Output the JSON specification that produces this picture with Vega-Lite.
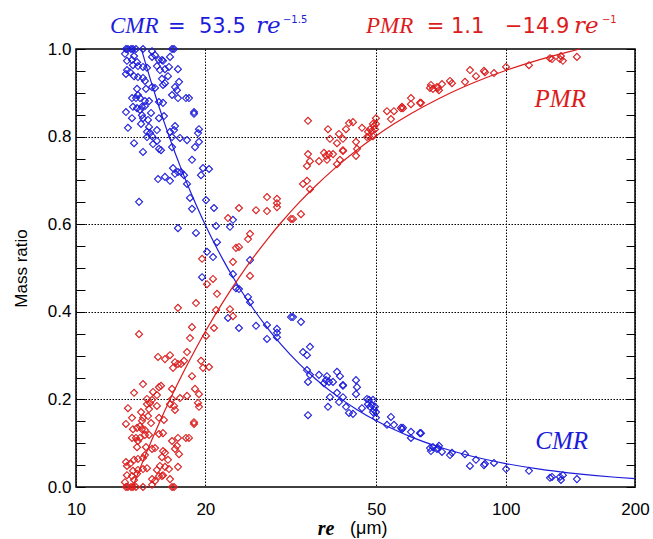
{
  "$schema": "https://vega.github.io/schema/vega-lite/v6.json",
  "width": 559,
  "height": 438,
  "autosize": {"type": "none"},
  "padding": {"left": 76, "top": 49, "right": 18, "bottom": 52},
  "background": "white",
  "config": {"view": {"stroke": "black", "strokeWidth": 1.5},
    "axis": {"titleFont": "Liberation Sans", "titleFontSize": 17, "titleFontWeight": "normal", "titleColor": "black"}},
  "datasets": {
    "pts": [
      {"re":13.07,"cmr":1.0,"pmr":0.0},{"re":13.21,"cmr":1.0,"pmr":0.0},{"re":13.43,"cmr":1.0,"pmr":0.0},{"re":13.57,"cmr":1.0,"pmr":0.0},
      {"re":13.79,"cmr":1.0,"pmr":0.0},{"re":14.32,"cmr":1.0,"pmr":0.0},{"re":15.03,"cmr":0.995,"pmr":0.005},{"re":16.73,"cmr":1.0,"pmr":0.0},
      {"re":16.91,"cmr":1.0,"pmr":0.0},{"re":13.0,"cmr":0.989,"pmr":0.011},{"re":13.65,"cmr":0.984,"pmr":0.016},{"re":13.14,"cmr":0.973,"pmr":0.027},
      {"re":13.5,"cmr":0.975,"pmr":0.025},{"re":13.87,"cmr":0.97,"pmr":0.03},{"re":13.57,"cmr":0.963,"pmr":0.037},{"re":13.94,"cmr":0.961,"pmr":0.039},
      {"re":13.14,"cmr":0.952,"pmr":0.048},{"re":13.07,"cmr":0.943,"pmr":0.057},{"re":13.36,"cmr":0.947,"pmr":0.053},{"re":14.32,"cmr":0.959,"pmr":0.041},
      {"re":14.63,"cmr":0.957,"pmr":0.043},{"re":15.03,"cmr":0.982,"pmr":0.018},{"re":15.27,"cmr":0.986,"pmr":0.014},{"re":15.6,"cmr":0.975,"pmr":0.025},
      {"re":15.85,"cmr":0.975,"pmr":0.025},{"re":15.94,"cmr":0.973,"pmr":0.027},{"re":15.43,"cmr":0.961,"pmr":0.039},{"re":15.68,"cmr":0.952,"pmr":0.048},
      {"re":16.11,"cmr":0.954,"pmr":0.046},{"re":16.55,"cmr":0.982,"pmr":0.018},{"re":16.46,"cmr":0.959,"pmr":0.041},{"re":17.27,"cmr":0.954,"pmr":0.046},
      {"re":13.65,"cmr":0.938,"pmr":0.062},{"re":13.94,"cmr":0.936,"pmr":0.064},{"re":14.32,"cmr":0.934,"pmr":0.066},{"re":14.47,"cmr":0.927,"pmr":0.073},
      {"re":15.85,"cmr":0.932,"pmr":0.068},{"re":16.37,"cmr":0.938,"pmr":0.062},{"re":17.37,"cmr":0.925,"pmr":0.075},{"re":16.11,"cmr":0.922,"pmr":0.078},
      {"re":15.94,"cmr":0.918,"pmr":0.082},{"re":15.03,"cmr":0.913,"pmr":0.087},{"re":15.27,"cmr":0.911,"pmr":0.089},{"re":17.0,"cmr":0.913,"pmr":0.087},
      {"re":17.18,"cmr":0.906,"pmr":0.094},{"re":13.87,"cmr":0.909,"pmr":0.091},{"re":14.55,"cmr":0.909,"pmr":0.091},{"re":13.94,"cmr":0.895,"pmr":0.105},
      {"re":13.5,"cmr":0.888,"pmr":0.112},{"re":13.79,"cmr":0.888,"pmr":0.112},{"re":14.09,"cmr":0.888,"pmr":0.112},{"re":14.47,"cmr":0.881,"pmr":0.119},
      {"re":14.79,"cmr":0.881,"pmr":0.119},{"re":15.6,"cmr":0.879,"pmr":0.121},{"re":15.94,"cmr":0.877,"pmr":0.123},{"re":16.73,"cmr":0.895,"pmr":0.105},
      {"re":17.27,"cmr":0.888,"pmr":0.112},{"re":18.03,"cmr":0.888,"pmr":0.112},{"re":18.32,"cmr":0.888,"pmr":0.112},{"re":13.57,"cmr":0.868,"pmr":0.132},
      {"re":13.87,"cmr":0.865,"pmr":0.135},{"re":14.09,"cmr":0.861,"pmr":0.139},{"re":14.24,"cmr":0.868,"pmr":0.132},{"re":14.47,"cmr":0.87,"pmr":0.13},
      {"re":13.07,"cmr":0.856,"pmr":0.144},{"re":13.5,"cmr":0.842,"pmr":0.158},{"re":14.24,"cmr":0.849,"pmr":0.151},{"re":14.32,"cmr":0.842,"pmr":0.158},
      {"re":14.95,"cmr":0.854,"pmr":0.146},{"re":15.6,"cmr":0.842,"pmr":0.158},{"re":16.02,"cmr":0.847,"pmr":0.153},{"re":18.82,"cmr":0.856,"pmr":0.144},
      {"re":18.82,"cmr":0.852,"pmr":0.148},{"re":14.17,"cmr":0.829,"pmr":0.171},{"re":14.71,"cmr":0.838,"pmr":0.162},{"re":14.79,"cmr":0.822,"pmr":0.178},
      {"re":13.21,"cmr":0.82,"pmr":0.18},{"re":14.63,"cmr":0.811,"pmr":0.189},{"re":14.87,"cmr":0.808,"pmr":0.192},{"re":15.43,"cmr":0.815,"pmr":0.185},
      {"re":17.0,"cmr":0.824,"pmr":0.176},{"re":16.91,"cmr":0.815,"pmr":0.185},{"re":16.55,"cmr":0.811,"pmr":0.189},{"re":19.33,"cmr":0.817,"pmr":0.183},
      {"re":19.23,"cmr":0.808,"pmr":0.192},{"re":14.63,"cmr":0.799,"pmr":0.201},{"re":15.03,"cmr":0.801,"pmr":0.199},{"re":16.73,"cmr":0.799,"pmr":0.201},
      {"re":17.46,"cmr":0.797,"pmr":0.203},{"re":18.13,"cmr":0.792,"pmr":0.208},{"re":13.65,"cmr":0.785,"pmr":0.215},{"re":14.32,"cmr":0.765,"pmr":0.235},
      {"re":15.11,"cmr":0.783,"pmr":0.217},{"re":15.43,"cmr":0.79,"pmr":0.21},{"re":15.6,"cmr":0.772,"pmr":0.228},{"re":15.77,"cmr":0.769,"pmr":0.231},
      {"re":16.73,"cmr":0.776,"pmr":0.224},{"re":18.92,"cmr":0.776,"pmr":0.224},{"re":19.33,"cmr":0.788,"pmr":0.212},{"re":18.62,"cmr":0.747,"pmr":0.253},
      {"re":16.82,"cmr":0.728,"pmr":0.272},{"re":19.75,"cmr":0.728,"pmr":0.272},{"re":20.4,"cmr":0.726,"pmr":0.274},{"re":17.27,"cmr":0.719,"pmr":0.281},
      {"re":17.55,"cmr":0.719,"pmr":0.281},{"re":17.0,"cmr":0.715,"pmr":0.285},{"re":17.84,"cmr":0.712,"pmr":0.288},{"re":19.54,"cmr":0.712,"pmr":0.288},
      {"re":15.52,"cmr":0.703,"pmr":0.297},{"re":16.11,"cmr":0.708,"pmr":0.292},{"re":16.55,"cmr":0.699,"pmr":0.301},{"re":18.13,"cmr":0.692,"pmr":0.308},
      {"re":18.42,"cmr":0.66,"pmr":0.34},{"re":14.02,"cmr":0.651,"pmr":0.349},{"re":20.07,"cmr":0.655,"pmr":0.345},{"re":18.62,"cmr":0.635,"pmr":0.365},
      {"re":20.95,"cmr":0.637,"pmr":0.363},{"re":17.27,"cmr":0.591,"pmr":0.409},{"re":19.02,"cmr":0.58,"pmr":0.42},{"re":21.18,"cmr":0.596,"pmr":0.404},
      {"re":22.82,"cmr":0.594,"pmr":0.406},{"re":23.19,"cmr":0.61,"pmr":0.39},{"re":21.29,"cmr":0.559,"pmr":0.441},{"re":20.18,"cmr":0.537,"pmr":0.463},
      {"re":20.84,"cmr":0.525,"pmr":0.475},{"re":25.41,"cmr":0.518,"pmr":0.482},{"re":19.65,"cmr":0.479,"pmr":0.521},{"re":23.19,"cmr":0.486,"pmr":0.514},
      {"re":23.57,"cmr":0.454,"pmr":0.546},{"re":23.95,"cmr":0.452,"pmr":0.548},{"re":25.14,"cmr":0.434,"pmr":0.566},{"re":25.41,"cmr":0.422,"pmr":0.578},
      {"re":22.58,"cmr":0.386,"pmr":0.614},{"re":23.95,"cmr":0.363,"pmr":0.637},{"re":26.24,"cmr":0.368,"pmr":0.632},{"re":27.83,"cmr":0.37,"pmr":0.63},
      {"re":27.83,"cmr":0.338,"pmr":0.662},{"re":29.36,"cmr":0.361,"pmr":0.639},{"re":29.36,"cmr":0.352,"pmr":0.648},{"re":29.36,"cmr":0.342,"pmr":0.658},
      {"re":31.65,"cmr":0.388,"pmr":0.612},{"re":31.99,"cmr":0.388,"pmr":0.612},{"re":33.39,"cmr":0.377,"pmr":0.623},{"re":35.04,"cmr":0.32,"pmr":0.68},
      {"re":33.75,"cmr":0.308,"pmr":0.692},{"re":34.48,"cmr":0.301,"pmr":0.699},{"re":34.48,"cmr":0.267,"pmr":0.733},{"re":35.04,"cmr":0.256,"pmr":0.744},
      {"re":34.67,"cmr":0.24,"pmr":0.76},{"re":36.77,"cmr":0.256,"pmr":0.744},{"re":38.38,"cmr":0.253,"pmr":0.747},{"re":38.18,"cmr":0.244,"pmr":0.756},
      {"re":38.8,"cmr":0.24,"pmr":0.76},{"re":39.64,"cmr":0.24,"pmr":0.76},{"re":37.77,"cmr":0.237,"pmr":0.763},{"re":40.5,"cmr":0.263,"pmr":0.737},
      {"re":41.15,"cmr":0.253,"pmr":0.747},{"re":41.82,"cmr":0.233,"pmr":0.767},{"re":41.82,"cmr":0.231,"pmr":0.769},{"re":44.84,"cmr":0.244,"pmr":0.756},
      {"re":45.08,"cmr":0.228,"pmr":0.772},{"re":44.84,"cmr":0.212,"pmr":0.788},{"re":40.5,"cmr":0.215,"pmr":0.785},{"re":39.0,"cmr":0.205,"pmr":0.795},
      {"re":41.82,"cmr":0.205,"pmr":0.795},{"re":40.93,"cmr":0.194,"pmr":0.806},{"re":38.59,"cmr":0.183,"pmr":0.817},{"re":42.5,"cmr":0.183,"pmr":0.817},
      {"re":43.19,"cmr":0.169,"pmr":0.831},{"re":44.12,"cmr":0.167,"pmr":0.833},{"re":46.3,"cmr":0.18,"pmr":0.82},{"re":47.56,"cmr":0.201,"pmr":0.799},
      {"re":48.07,"cmr":0.199,"pmr":0.801},{"re":49.11,"cmr":0.199,"pmr":0.801},{"re":47.81,"cmr":0.189,"pmr":0.811},{"re":48.33,"cmr":0.183,"pmr":0.817},
      {"re":49.64,"cmr":0.183,"pmr":0.817},{"re":49.38,"cmr":0.176,"pmr":0.824},{"re":49.11,"cmr":0.171,"pmr":0.829},{"re":49.91,"cmr":0.171,"pmr":0.829},
      {"re":54.08,"cmr":0.16,"pmr":0.84},{"re":34.67,"cmr":0.164,"pmr":0.836},{"re":49.91,"cmr":0.158,"pmr":0.842},{"re":48.85,"cmr":0.187,"pmr":0.813},
      {"re":52.94,"cmr":0.142,"pmr":0.858},{"re":54.96,"cmr":0.142,"pmr":0.858},{"re":57.06,"cmr":0.135,"pmr":0.865},{"re":57.37,"cmr":0.132,"pmr":0.868},
      {"re":57.68,"cmr":0.135,"pmr":0.865},{"re":60.2,"cmr":0.126,"pmr":0.874},{"re":60.2,"cmr":0.112,"pmr":0.888},{"re":63.18,"cmr":0.123,"pmr":0.877},
      {"re":63.52,"cmr":0.123,"pmr":0.877},{"re":66.66,"cmr":0.089,"pmr":0.911},{"re":67.01,"cmr":0.082,"pmr":0.918},{"re":67.74,"cmr":0.091,"pmr":0.909},
      {"re":69.2,"cmr":0.087,"pmr":0.913},{"re":69.95,"cmr":0.094,"pmr":0.906},{"re":69.58,"cmr":0.089,"pmr":0.911},{"re":71.08,"cmr":0.08,"pmr":0.92},
      {"re":74.2,"cmr":0.073,"pmr":0.927},{"re":75.0,"cmr":0.078,"pmr":0.922},{"re":80.41,"cmr":0.075,"pmr":0.925},{"re":85.29,"cmr":0.062,"pmr":0.938},
      {"re":82.59,"cmr":0.048,"pmr":0.952},{"re":89.51,"cmr":0.053,"pmr":0.947},{"re":89.03,"cmr":0.05,"pmr":0.95},{"re":93.93,"cmr":0.055,"pmr":0.945},
      {"re":100.2,"cmr":0.041,"pmr":0.959},{"re":113.3,"cmr":0.037,"pmr":0.963},{"re":126.8,"cmr":0.021,"pmr":0.979},{"re":128.2,"cmr":0.023,"pmr":0.977},
      {"re":133.8,"cmr":0.023,"pmr":0.977},{"re":135.9,"cmr":0.027,"pmr":0.973},{"re":134.5,"cmr":0.016,"pmr":0.984},{"re":146.5,"cmr":0.018,"pmr":0.982}
    ],
    "cmrfit": [
      {"re":14.2,"cmr":1.0},{"re":14.5,"cmr":0.9689},{"re":15,"cmr":0.9209},{"re":15.5,"cmr":0.8767},{"re":16,"cmr":0.8359},
      {"re":16.5,"cmr":0.7982},{"re":17,"cmr":0.7633},{"re":17.5,"cmr":0.7308},{"re":18,"cmr":0.7006},{"re":18.5,"cmr":0.6723},
      {"re":19,"cmr":0.646},{"re":20,"cmr":0.5981},{"re":21,"cmr":0.5559},{"re":22,"cmr":0.5185},{"re":23,"cmr":0.485},
      {"re":24,"cmr":0.455},{"re":25,"cmr":0.428},{"re":26,"cmr":0.4036},{"re":28,"cmr":0.3611},{"re":30,"cmr":0.3256},
      {"re":33,"cmr":0.2822},{"re":36,"cmr":0.2477},{"re":40,"cmr":0.2115},{"re":45,"cmr":0.1772},{"re":50,"cmr":0.1513},
      {"re":55,"cmr":0.1312},{"re":60,"cmr":0.1151},{"re":70,"cmr":0.0913},{"re":80,"cmr":0.0748},{"re":90,"cmr":0.0627},
      {"re":100,"cmr":0.0535},{"re":120,"cmr":0.0407},{"re":140,"cmr":0.0323},{"re":160,"cmr":0.0264},{"re":180,"cmr":0.0222},
      {"re":200,"cmr":0.0189}
    ],
    "pmrfit": [
      {"re":13.545,"pmr":0.0},{"re":14,"pmr":0.0357},{"re":14.5,"pmr":0.0724},{"re":15,"pmr":0.1067},{"re":15.5,"pmr":0.1387},
      {"re":16,"pmr":0.1688},{"re":17,"pmr":0.2235},{"re":18,"pmr":0.2722},{"re":19,"pmr":0.3158},{"re":20,"pmr":0.355},
      {"re":22,"pmr":0.4227},{"re":24,"pmr":0.4792},{"re":26,"pmr":0.5269},{"re":28,"pmr":0.5679},{"re":30,"pmr":0.6033},
      {"re":33,"pmr":0.6485},{"re":36,"pmr":0.6861},{"re":40,"pmr":0.7275},{"re":45,"pmr":0.7689},{"re":50,"pmr":0.802},
      {"re":55,"pmr":0.8291},{"re":60,"pmr":0.8517},{"re":70,"pmr":0.8871},{"re":80,"pmr":0.9137},{"re":90,"pmr":0.9344},
      {"re":100,"pmr":0.951},{"re":120,"pmr":0.9758},{"re":140,"pmr":0.9936},{"re":149,"pmr":1.0}
    ]
  },
  "layer": [
    {
      "data": {"name": "pts"},
      "mark": {"type": "point", "shape": "diamond", "filled": false, "size": 49, "strokeWidth": 1.1, "color": "#1c1cdc", "opacity": 1},
      "encoding": {
        "x": {"field": "re", "type": "quantitative", "title": null,
          "scale": {"type": "log", "domain": [10, 200], "nice": false},
          "axis": {"values": [10, 20, 50, 100, 200], "format": "d", "title": null,
            "labelFont": "Liberation Sans", "labelFontSize": 17, "labelColor": "black", "labelPadding": 14, "labelFlush": false,
            "ticks": false, "domain": false,
            "grid": true, "gridColor": "black", "gridDash": [1.5, 1.5], "gridWidth": 1, "gridOpacity": 1}},
        "y": {"field": "cmr", "type": "quantitative",
          "scale": {"domain": [0, 1], "nice": false},
          "axis": {"orient": "left",
            "values": [0,0.05,0.1,0.15,0.2,0.25,0.3,0.35,0.4,0.45,0.5,0.55,0.6,0.65,0.7,0.75,0.8,0.85,0.9,0.95,1],
            "labelExpr": "abs(round(datum.value*5)-datum.value*5)<0.001 ? format(datum.value,'.1f') : ''",
            "labelFont": "Liberation Sans", "labelFontSize": 17, "labelColor": "black", "labelPadding": 14,
            "ticks": true, "tickSize": -9, "tickColor": "black", "tickWidth": 1,
            "domain": false,
            "grid": true, "gridColor": "black", "gridDash": [1.5, 1.5], "gridWidth": 1,
            "gridOpacity": {"condition": {"test": "datum.value > 0.01 && datum.value < 0.99 && abs(round(datum.value*5)-datum.value*5)<0.001", "value": 1}, "value": 0},
            "title": "Mass ratio", "titleFont": "Liberation Sans", "titleFontSize": 17, "titleFontWeight": "normal", "titleColor": "black", "titlePadding": 17}}
      }
    },
    {
      "data": {"name": "pts"},
      "mark": {"type": "point", "shape": "diamond", "filled": false, "size": 49, "strokeWidth": 1.1, "color": "#dc1c1c", "opacity": 1},
      "encoding": {
        "x": {"field": "re", "type": "quantitative", "title": null},
        "y": {"field": "pmr", "type": "quantitative",
          "axis": {"orient": "right",
            "values": [0,0.05,0.1,0.15,0.2,0.25,0.3,0.35,0.4,0.45,0.5,0.55,0.6,0.65,0.7,0.75,0.8,0.85,0.9,0.95,1],
            "labels": false, "ticks": true, "tickSize": -9, "tickColor": "black", "tickWidth": 1,
            "domain": false, "grid": false, "title": null}}
      }
    },
    {
      "data": {"name": "cmrfit"},
      "mark": {"type": "line", "color": "#1c1cdc", "strokeWidth": 1.2, "interpolate": "monotone"},
      "encoding": {
        "x": {"field": "re", "type": "quantitative", "title": null},
        "y": {"field": "cmr", "type": "quantitative", "axis": null}
      }
    },
    {
      "data": {"name": "pmrfit"},
      "mark": {"type": "line", "color": "#dc1c1c", "strokeWidth": 1.2, "interpolate": "monotone"},
      "encoding": {
        "x": {"field": "re", "type": "quantitative", "title": null},
        "y": {"field": "pmr", "type": "quantitative", "axis": null}
      }
    },
    {"data": {"values": [{}]}, "mark": {"type": "text", "text": "CMR", "font": "Liberation Serif", "fontStyle": "italic", "fontSize": 23, "color": "#1c1cdc", "align": "left", "baseline": "alphabetic"},
     "encoding": {"x": {"datum": 12.0, "type": "quantitative"}, "y": {"datum": 1.0365, "type": "quantitative", "axis": null}}},
    {"data": {"values": [{}]}, "mark": {"type": "text", "text": "=", "font": "DejaVu Sans", "fontSize": 21, "color": "#1c1cdc", "align": "left", "baseline": "alphabetic"},
     "encoding": {"x": {"datum": 16.37, "type": "quantitative"}, "y": {"datum": 1.0365, "type": "quantitative", "axis": null}}},
    {"data": {"values": [{}]}, "mark": {"type": "text", "text": "53.5", "font": "DejaVu Sans", "fontSize": 21, "color": "#1c1cdc", "align": "left", "baseline": "alphabetic"},
     "encoding": {"x": {"datum": 19.33, "type": "quantitative"}, "y": {"datum": 1.0365, "type": "quantitative", "axis": null}}},
    {"data": {"values": [{}]}, "mark": {"type": "text", "text": "re", "font": "DejaVu Serif", "fontStyle": "italic", "fontSize": 23, "color": "#1c1cdc", "align": "left", "baseline": "alphabetic"},
     "encoding": {"x": {"datum": 26.24, "type": "quantitative"}, "y": {"datum": 1.0365, "type": "quantitative", "axis": null}}},
    {"data": {"values": [{}]}, "mark": {"type": "text", "text": "−1.5", "font": "DejaVu Sans", "fontSize": 10, "color": "#1c1cdc", "align": "left", "baseline": "alphabetic"},
     "encoding": {"x": {"datum": 30.32, "type": "quantitative"}, "y": {"datum": 1.059, "type": "quantitative", "axis": null}}},
    {"data": {"values": [{}]}, "mark": {"type": "text", "text": "PMR", "font": "Liberation Serif", "fontStyle": "italic", "fontSize": 23, "color": "#dc1c1c", "align": "left", "baseline": "alphabetic"},
     "encoding": {"x": {"datum": 47.3, "type": "quantitative"}, "y": {"datum": 1.0365, "type": "quantitative", "axis": null}}},
    {"data": {"values": [{}]}, "mark": {"type": "text", "text": "=", "font": "DejaVu Sans", "fontSize": 21, "color": "#dc1c1c", "align": "left", "baseline": "alphabetic"},
     "encoding": {"x": {"datum": 65.5, "type": "quantitative"}, "y": {"datum": 1.0365, "type": "quantitative", "axis": null}}},
    {"data": {"values": [{}]}, "mark": {"type": "text", "text": "1.1", "font": "DejaVu Sans", "fontSize": 21, "color": "#dc1c1c", "align": "left", "baseline": "alphabetic"},
     "encoding": {"x": {"datum": 74.6, "type": "quantitative"}, "y": {"datum": 1.0365, "type": "quantitative", "axis": null}}},
    {"data": {"values": [{}]}, "mark": {"type": "text", "text": "−14.9", "font": "DejaVu Sans", "fontSize": 21, "color": "#dc1c1c", "align": "left", "baseline": "alphabetic"},
     "encoding": {"x": {"datum": 99.63, "type": "quantitative"}, "y": {"datum": 1.0365, "type": "quantitative", "axis": null}}},
    {"data": {"values": [{}]}, "mark": {"type": "text", "text": "re", "font": "DejaVu Serif", "fontStyle": "italic", "fontSize": 23, "color": "#dc1c1c", "align": "left", "baseline": "alphabetic"},
     "encoding": {"x": {"datum": 144.2, "type": "quantitative"}, "y": {"datum": 1.0365, "type": "quantitative", "axis": null}}},
    {"data": {"values": [{}]}, "mark": {"type": "text", "text": "−1", "font": "DejaVu Sans", "fontSize": 10, "color": "#dc1c1c", "align": "left", "baseline": "alphabetic"},
     "encoding": {"x": {"datum": 167.5, "type": "quantitative"}, "y": {"datum": 1.059, "type": "quantitative", "axis": null}}},
    {"data": {"values": [{}]}, "mark": {"type": "text", "text": "PMR", "font": "Liberation Serif", "fontStyle": "italic", "fontSize": 25, "color": "#dc1c1c", "align": "center", "baseline": "middle"},
     "encoding": {"x": {"datum": 134, "type": "quantitative"}, "y": {"datum": 0.886, "type": "quantitative", "axis": null}}},
    {"data": {"values": [{}]}, "mark": {"type": "text", "text": "CMR", "font": "Liberation Serif", "fontStyle": "italic", "fontSize": 25, "color": "#1c1cdc", "align": "center", "baseline": "middle"},
     "encoding": {"x": {"datum": 135, "type": "quantitative"}, "y": {"datum": 0.106, "type": "quantitative", "axis": null}}},
    {"data": {"values": [{}]}, "mark": {"type": "text", "text": "re", "font": "Liberation Serif", "fontStyle": "italic", "fontWeight": "bold", "fontSize": 20, "color": "black", "align": "center", "baseline": "middle"},
     "encoding": {"x": {"datum": 38.18, "type": "quantitative"}, "y": {"datum": -0.095, "type": "quantitative", "axis": null}}},
    {"data": {"values": [{}]}, "mark": {"type": "text", "text": "(μm)", "font": "Liberation Sans", "fontSize": 18, "color": "black", "align": "center", "baseline": "middle"},
     "encoding": {"x": {"datum": 48.0, "type": "quantitative"}, "y": {"datum": -0.095, "type": "quantitative", "axis": null}}}
  ],
  "resolve": {"axis": {"y": "independent"}}
}
